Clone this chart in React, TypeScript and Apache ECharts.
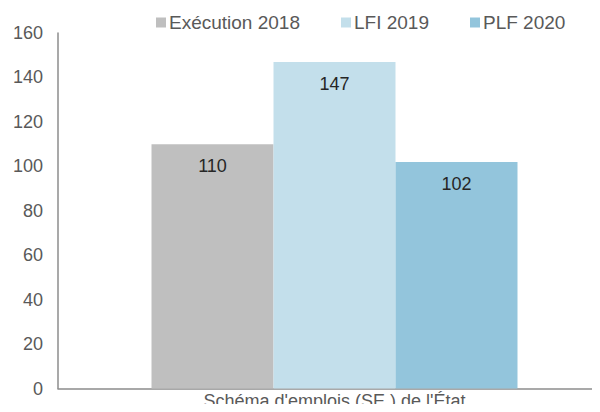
import React, { useEffect, useRef } from "react";
import * as echarts from "echarts";

const categories = ["Schéma d'emplois (SE ) de l'État"];
const seriesNames = ["Exécution 2018", "LFI 2019", "PLF 2020"];
const execution2018 = [110];
const lfi2019 = [147];
const plf2020 = [102];
const colors = ["#bfbfbf", "#c3dfeb", "#93c5dc"];

export default function App() {
  const ref = useRef<HTMLDivElement>(null);
  useEffect(() => {
    if (!ref.current) return;
    const chart = echarts.init(ref.current, null, { renderer: "svg" });
    const font = "'Liberation Sans', Arial, sans-serif";
    const values = [execution2018, lfi2019, plf2020];
    chart.setOption({
      animation: false,
      textStyle: { fontFamily: font },
      legend: {
        top: 13,
        left: 156,
        padding: 0,
        itemWidth: 10,
        itemHeight: 10,
        itemGap: 41,
        icon: "rect",
        textStyle: { fontSize: 19, color: "#595959", fontFamily: font, padding: [0, 0, 0, -2] },
        data: seriesNames,
      },
      grid: {
        left: 58,
        top: 33,
        width: 553,
        bottom: 412 - 388.6,
        containLabel: false,
        outerBoundsMode: "none",
      },
      xAxis: {
        type: "category",
        data: categories,
        axisLine: { lineStyle: { color: "#8c8c8c", width: 1.5 } },
        axisTick: { show: false },
        axisLabel: { fontSize: 18, color: "#595959", margin: 3, fontFamily: font },
      },
      yAxis: {
        type: "value",
        min: 0,
        max: 160,
        interval: 20,
        axisLine: { show: true, lineStyle: { color: "#8c8c8c", width: 1.5 } },
        axisTick: { show: false },
        splitLine: { show: false },
        axisLabel: { fontSize: 18, color: "#595959", margin: 15, fontFamily: font },
      },
      series: seriesNames.map((name, i) => ({
        name,
        type: "bar",
        data: values[i],
        barWidth: 122,
        barGap: "0%",
        itemStyle: { color: colors[i] },
        label: {
          show: true,
          position: "insideTop",
          distance: 13,
          fontSize: 18,
          color: "#262626",
          fontFamily: font,
        },
      })),
    });
    return () => chart.dispose();
  }, []);
  return <div ref={ref} style={{ width: 600, height: 412, margin: -8 }} />;
}
